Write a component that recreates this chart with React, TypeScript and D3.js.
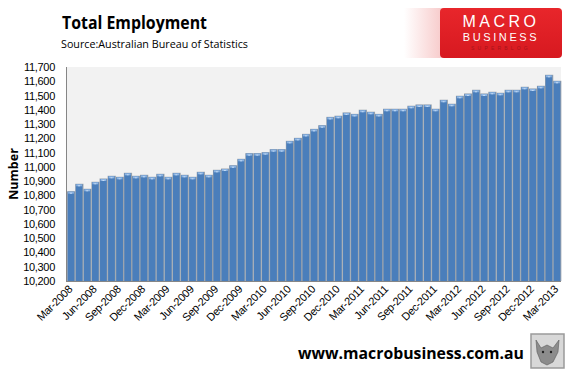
import React from "react";
import * as d3 from "d3";

const months = ["Mar","Apr","May","Jun","Jul","Aug","Sep","Oct","Nov","Dec","Jan","Feb"];
const startYear = 2008;
const values = [
  10826, 10878, 10843, 10892, 10915, 10934, 10927, 10955, 10934, 10941,
  10927, 10948, 10927, 10955, 10941, 10927, 10962, 10941, 10976, 10985,
  11008, 11053, 11093, 11093, 11100, 11121, 11121, 11179, 11200, 11228,
  11263, 11289, 11347, 11355, 11378, 11368, 11397, 11383, 11368, 11404,
  11404, 11404, 11425, 11434, 11434, 11404, 11467, 11439, 11495, 11511,
  11537, 11511, 11523, 11516, 11537, 11537, 11558, 11546, 11565, 11642,
  11600,
];
const categories = values.map((_, i) => {
  const m = i % 12;
  const y = startYear + Math.floor((i + 2) / 12);
  return `${months[m]}-${y}`;
});
const yTicks = d3.range(10200, 11701, 100);

const W = 570, H = 372;
const PL = 67, PR = 561, PT = 67, PB = 281;

export default function App() {
  const x = d3.scaleBand<string>().domain(categories).range([PL, PR]).paddingInner(0.17).paddingOuter(0.08);
  const y = d3.scaleLinear().domain([10200, 11700]).range([PB, PT]);
  const font = "'Open Sans', 'Liberation Sans', sans-serif";
  const fmt = d3.format(",");
  return (
    <svg width={W} height={H} style={{ position: "absolute", left: 0, top: 0, background: "#fff" }} fontFamily={font}>
      <defs>
        <linearGradient id="glare" x1="0" x2="1" y1="0" y2="0">
          <stop offset="0" stopColor="#fff" stopOpacity="1" />
          <stop offset="1" stopColor="#f7c8c8" stopOpacity="1" />
        </linearGradient>
        <linearGradient id="red" x1="0" x2="0" y1="0" y2="1">
          <stop offset="0" stopColor="#e8262b" />
          <stop offset="1" stopColor="#d71920" />
        </linearGradient>
      </defs>
      {/* Title */}
      <text x={62} y={29} fontSize={17} fontWeight="bold" fill="#000" textLength={145} lengthAdjust="spacingAndGlyphs">Total Employment</text>
      <text x={61} y={48} fontSize={11} fill="#000" textLength={187} lengthAdjust="spacingAndGlyphs">Source:Australian Bureau of Statistics</text>
      {/* Logo */}
      <rect x={404} y={8} width={40} height={50} fill="url(#glare)" />
      <rect x={440} y={8} width={122} height={50} rx={4} fill="url(#red)" />
      <text x={501} y={27} fontSize={16} fill="#fff" textAnchor="middle" letterSpacing={3.5} fontFamily="'Liberation Sans', sans-serif">MACRO</text>
      <text x={501} y={41} fontSize={11} fill="#fff" textAnchor="middle" letterSpacing={2.6} fontFamily="'Liberation Sans', sans-serif">BUSINESS</text>
      <text x={501} y={50} fontSize={5} fill="#a8141a" textAnchor="middle" letterSpacing={3.2} fontFamily="'Liberation Sans', sans-serif">SUPERBLOG</text>
      {/* Plot background */}
      <rect x={PL} y={PT} width={PR - PL} height={PB - PT} fill="#f2f2f2" />
      {/* Bars */}
      {values.map((v, i) => {
        const bx = x(categories[i])!;
        const bw = x.bandwidth();
        const by = y(v);
        return (
          <g key={i}>
            <rect x={bx - 0.5} y={by - 0.5} width={bw + 1.5} height={PB - by + 0.5} fill="#9aa3ad" />
            <rect x={bx} y={by} width={bw} height={PB - by} fill="#4a7ebb" />
            <rect x={bx + 0.5} y={by} width={bw - 1} height={2} fill="#8db4e2" />
            <rect x={bx + bw / 2 - 1} y={by + 1} width={2} height={1} fill="#c6dcf5" />
          </g>
        );
      })}
      {/* Axes */}
      <line x1={PL - 0.5} x2={PL - 0.5} y1={PT} y2={PB + 1} stroke="#868686" />
      <line x1={PL - 0.5} x2={PR} y1={PB + 0.5} y2={PB + 0.5} stroke="#868686" />
      {yTicks.map((t) => (
        <text key={t} x={55} y={y(t) + 4} fontSize={11} textAnchor="end" fill="#000" fontFamily="'Liberation Sans', sans-serif" letterSpacing={-0.3}>{fmt(t)}</text>
      ))}
      <text transform={`translate(18,${(PT + PB) / 2}) rotate(-90)`} fontSize={12.5} fontWeight="bold" textAnchor="middle" fill="#000">Number</text>
      {categories.map((c, i) => i % 3 === 0 ? (
        <text key={c} transform={`translate(${x(c)! + x.bandwidth() / 2 + 2},${PB + 9}) rotate(-45)`} fontSize={11} textAnchor="end" fill="#000" fontFamily="'Liberation Sans', sans-serif" letterSpacing={-0.3}>{c}</text>
      ) : null)}
      {/* Footer */}
      <text x={298} y={359} fontSize={16.5} fontWeight="bold" fill="#000" textLength={226} lengthAdjust="spacingAndGlyphs">www.macrobusiness.com.au</text>
      <rect x={531} y={334} width={33} height={34} fill="#d8d8d8" stroke="#9a9a9a" strokeWidth={1.5} />
      <path d="M536,340 L541,348 L547,345 L553,348 L559,340 L558,352 L553,362 L547,365 L541,362 L537,352 Z" fill="#8c8c8c" stroke="#5a5a5a" strokeWidth={0.6} />
      <circle cx={543} cy={352} r={1.2} fill="#222" />
      <circle cx={551} cy={352} r={1.2} fill="#222" />
    </svg>
  );
}
